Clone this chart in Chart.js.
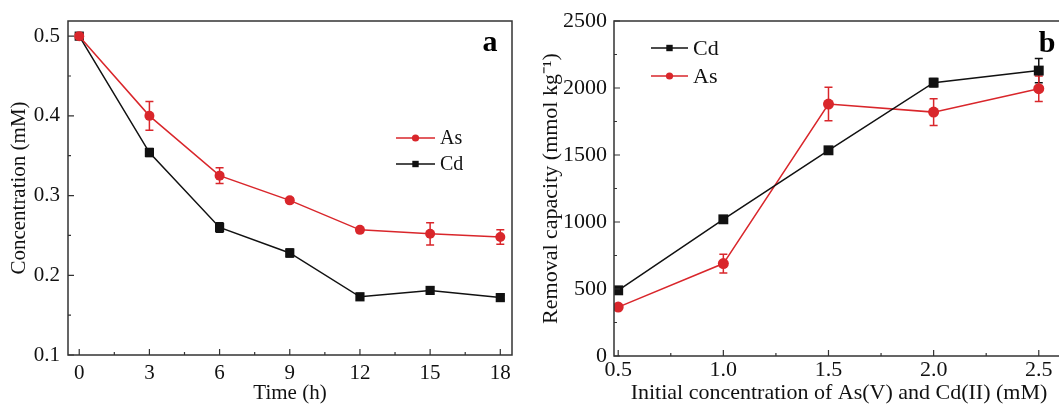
<!DOCTYPE html>
<html lang="en">
<head>
<meta charset="UTF-8">
<title>As(V) and Cd(II) removal</title>
<script src="https://cdn.jsdelivr.net/npm/chart.js"></script>
<style>
  html, body { margin: 0; padding: 0; background: #fff; overflow: hidden; }
  #wrapA { position: absolute; left: 0; top: 0; width: 530px; height: 406px; }
  #wrapB { position: absolute; left: 529px; top: 0; width: 545px; height: 406px; }
</style>
</head>
<body>
<div id="wrapA"><canvas id="chartA" width="530" height="406"></canvas></div>
<div id="wrapB"><canvas id="chartB" width="545" height="406"></canvas></div>

<script>
// panel a: concentration vs time
const timeH = [0, 3, 6, 9, 12, 15, 18];
const asConc = [0.500, 0.400, 0.325, 0.294, 0.257, 0.252, 0.248];
const asConcErr = [0, 0.018, 0.010, 0.003, 0.002, 0.014, 0.009];
const cdConc = [0.500, 0.354, 0.260, 0.228, 0.173, 0.181, 0.172];
const cdConcErr = [0, 0.005, 0.006, 0.005, 0.004, 0.004, 0.003];
const timeTicks = [0, 3, 6, 9, 12, 15, 18];
const concTicks = [0.1, 0.2, 0.3, 0.4, 0.5];

// panel b: removal capacity vs initial concentration
const initConc = [0.5, 1.0, 1.5, 2.0, 2.5];
const cdCap = [490, 1020, 1535, 2040, 2130];
const cdCapErr = [12, 15, 15, 30, 90];
const asCap = [365, 690, 1880, 1820, 1995];
const asCapErr = [10, 70, 125, 100, 95];
const initTicks = [0.5, 1.0, 1.5, 2.0, 2.5];
const initTickLabels = ['0.5', '1.0', '1.5', '2.0', '2.5'];
const capTicks = [0, 500, 1000, 1500, 2000, 2500];

const RED = '#d9262b';
const BLACK = '#111';
const AXIS = '#333';
const FONT = "'Liberation Serif', 'Times New Roman', serif";

function pts(xs, ys) {
  return xs.map((x, i) => ({ x: x, y: ys[i] }));
}

// frame, inward ticks (major + minor), error bars, legend and panel letter
const extrasPlugin = {
  id: 'extras',
  beforeDatasetsDraw(chart) {
    const ctx = chart.ctx;
    ctx.save();
    chart.data.datasets.forEach((ds, di) => {
      const meta = chart.getDatasetMeta(di);
      const errs = ds.errors || [];
      ctx.strokeStyle = ds.borderColor;
      ctx.lineWidth = 1.5;
      meta.data.forEach((pt, i) => {
        const e = errs[i];
        if (!e) return;
        const v = ds.data[i].y;
        const yt = chart.scales.y.getPixelForValue(v + e);
        const yb = chart.scales.y.getPixelForValue(v - e);
        ctx.beginPath();
        ctx.moveTo(pt.x, yt); ctx.lineTo(pt.x, yb);
        ctx.moveTo(pt.x - 4, yt); ctx.lineTo(pt.x + 4, yt);
        ctx.moveTo(pt.x - 4, yb); ctx.lineTo(pt.x + 4, yb);
        ctx.stroke();
      });
    });
    ctx.restore();
  },
  afterDraw(chart, args, opts) {
    const ctx = chart.ctx;
    const a = chart.chartArea;
    const xs = chart.scales.x, ys = chart.scales.y;
    ctx.save();
    ctx.strokeStyle = AXIS;
    ctx.lineWidth = 1.5;
    ctx.strokeRect(a.left, a.top, a.right - a.left, a.bottom - a.top);

    ctx.lineWidth = 1.2;
    const xMaj = opts.xTicks, yMaj = opts.yTicks;
    const mids = arr => arr.slice(1).map((v, i) => (v + arr[i]) / 2);
    ctx.beginPath();
    xMaj.forEach(v => { const p = xs.getPixelForValue(v); ctx.moveTo(p, a.bottom); ctx.lineTo(p, a.bottom - 6); });
    mids(xMaj).forEach(v => { const p = xs.getPixelForValue(v); ctx.moveTo(p, a.bottom); ctx.lineTo(p, a.bottom - 3); });
    yMaj.forEach(v => { const p = ys.getPixelForValue(v); ctx.moveTo(a.left, p); ctx.lineTo(a.left + 6, p); });
    mids(yMaj).forEach(v => { const p = ys.getPixelForValue(v); ctx.moveTo(a.left, p); ctx.lineTo(a.left + 3, p); });
    ctx.stroke();

    // legend
    const lg = opts.legend;
    ctx.font = lg.size + 'px ' + FONT;
    ctx.textBaseline = 'middle';
    lg.items.forEach((it, i) => {
      const y = lg.y + i * lg.gap;
      ctx.strokeStyle = it.color;
      ctx.fillStyle = it.color;
      ctx.lineWidth = 1.5;
      ctx.beginPath();
      ctx.moveTo(lg.x, y); ctx.lineTo(lg.x + lg.len, y);
      ctx.stroke();
      const cx = lg.x + lg.len / 2;
      ctx.beginPath();
      if (it.shape === 'circle') ctx.arc(cx, y, 3.6, 0, Math.PI * 2);
      else ctx.rect(cx - 3.2, y - 3.2, 6.4, 6.4);
      ctx.fill();
      ctx.fillStyle = '#111';
      ctx.fillText(it.label, lg.x + lg.len + 5, y + 1);
    });

    // panel letter
    ctx.font = 'bold 30px ' + FONT;
    ctx.fillStyle = '#000';
    ctx.textAlign = 'center';
    ctx.textBaseline = 'alphabetic';
    ctx.fillText(opts.letter.text, opts.letter.x, opts.letter.y);
    ctx.restore();
  }
};

function buildChart(id, cfg) {
  return new Chart(document.getElementById(id), {
    type: 'line',
    data: { datasets: cfg.datasets },
    options: {
      responsive: false,
      animation: false,
      layout: { padding: cfg.padding },
      plugins: {
        legend: { display: false },
        tooltip: { enabled: false },
        extras: cfg.extras
      },
      scales: {
        x: {
          type: 'linear',
          min: cfg.xMin, max: cfg.xMax,
          grid: { display: false, drawTicks: false },
          border: { display: false },
          afterFit: s => { s.height = cfg.xHeight; },
          afterBuildTicks: s => { s.ticks = cfg.extras.xTicks.map(v => ({ value: v })); },
          ticks: {
            padding: cfg.xTickPad,
            color: '#111',
            font: { family: FONT, size: cfg.tickSize },
            maxRotation: 0,
            callback: cfg.xLabel
          },
          title: {
            display: true, text: cfg.xTitle, color: '#111',
            font: { family: FONT, size: cfg.titleSize },
            padding: { top: cfg.xTitlePad, bottom: 0 }
          }
        },
        y: {
          min: cfg.yMin, max: cfg.yMax,
          grid: { display: false, drawTicks: false },
          border: { display: false },
          afterFit: s => { s.width = cfg.yWidth; },
          afterBuildTicks: s => { s.ticks = cfg.extras.yTicks.map(v => ({ value: v })); },
          ticks: {
            padding: cfg.yTickPad,
            color: '#111',
            font: { family: FONT, size: cfg.tickSize },
            callback: cfg.yLabel
          },
          title: {
            display: true, text: cfg.yTitle, color: '#111',
            font: { family: FONT, size: cfg.titleSize },
            padding: { top: cfg.yTitlePad, bottom: 0 }
          }
        }
      }
    },
    plugins: [extrasPlugin]
  });
}

function series(label, xs, ys, errs, color, shape, radius) {
  return {
    label: label,
    data: pts(xs, ys),
    errors: errs,
    borderColor: color,
    backgroundColor: color,
    borderWidth: 1.5,
    pointStyle: shape,
    pointRadius: radius,
    pointBorderWidth: 0,
    tension: 0
  };
}

buildChart('chartA', {
  datasets: [
    series('As', timeH, asConc, asConcErr, RED, 'circle', 5),
    series('Cd', timeH, cdConc, cdConcErr, BLACK, 'rect', 6.5)
  ],
  padding: { top: 21, right: 18, left: 0, bottom: 0 },
  xMin: -0.48, xMax: 18.5, yMin: 0.1, yMax: 0.519,
  xHeight: 51, yWidth: 68,
  xTickPad: 6, yTickPad: 8, xTitlePad: -4, yTitlePad: 7,
  tickSize: 21, titleSize: 21,
  xLabel: v => String(v),
  yLabel: v => v.toFixed(1),
  xTitle: 'Time (h)',
  yTitle: 'Concentration (mM)',
  extras: {
    xTicks: timeTicks, yTicks: concTicks,
    legend: { x: 396, y: 138, gap: 26, len: 39, size: 20, items: [
      { label: 'As', color: RED, shape: 'circle' },
      { label: 'Cd', color: BLACK, shape: 'rect' }
    ] },
    letter: { text: 'a', x: 490, y: 51 }
  }
});

buildChart('chartB', {
  datasets: [
    series('Cd', initConc, cdCap, cdCapErr, BLACK, 'rect', 7),
    series('As', initConc, asCap, asCapErr, RED, 'circle', 5.5)
  ],
  padding: { top: 21, right: 10, left: 0, bottom: 0 },
  xMin: 0.48, xMax: 2.62, yMin: 0, yMax: 2500,
  xHeight: 50, yWidth: 85,
  xTickPad: 1, yTickPad: 7, xTitlePad: -4, yTitlePad: 9,
  tickSize: 22, titleSize: 22,
  xLabel: (v, i) => initTickLabels[i],
  yLabel: v => String(v),
  xTitle: 'Initial concentration of As(V) and Cd(II) (mM)',
  yTitle: 'Removal capacity (mmol kg\u207B\u00B9)',
  extras: {
    xTicks: initTicks, yTicks: capTicks,
    legend: { x: 122, y: 48, gap: 28, len: 37, size: 22, items: [
      { label: 'Cd', color: BLACK, shape: 'rect' },
      { label: 'As', color: RED, shape: 'circle' }
    ] },
    letter: { text: 'b', x: 518, y: 52 }
  }
});
</script>
</body>
</html>
